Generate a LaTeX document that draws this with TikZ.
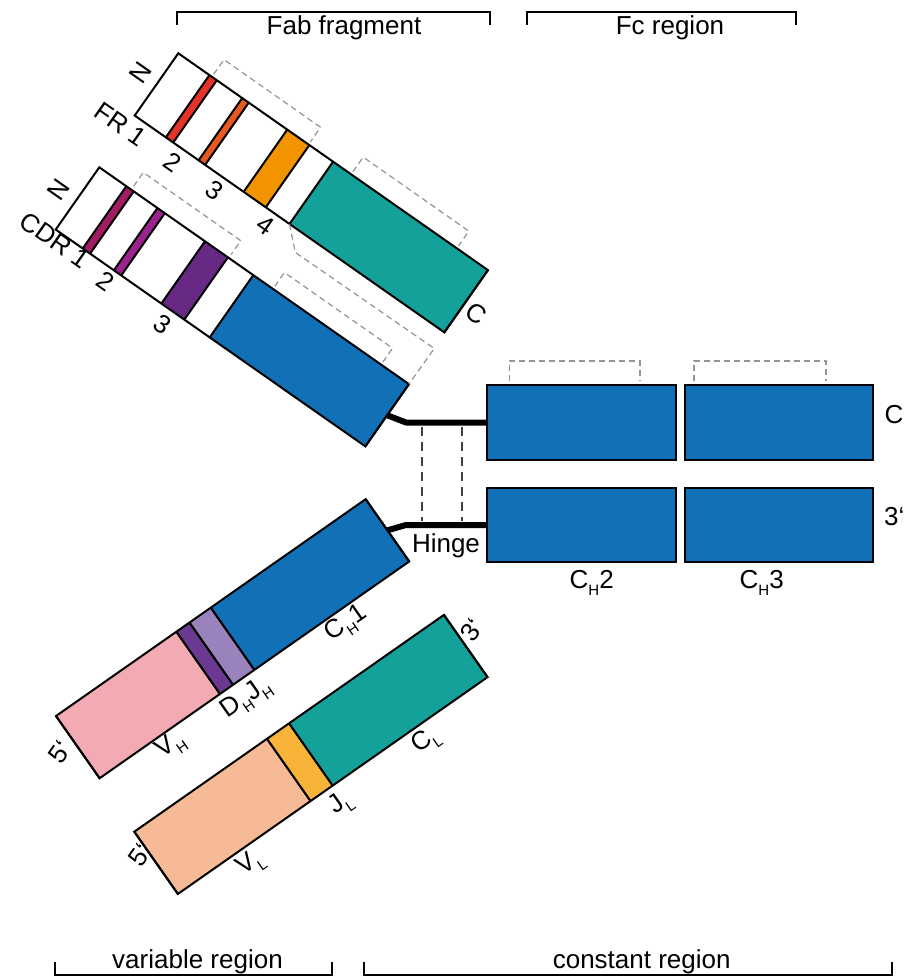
\documentclass[tikz,border=0pt]{standalone}
\usepackage{fontspec}
\setmainfont{Liberation Sans}
\definecolor{cblue}{RGB}{18,112,183}
\definecolor{cteal}{RGB}{20,161,153}
\definecolor{cred}{RGB}{229,51,42}
\definecolor{corr}{RGB}{232,89,32}
\definecolor{corange}{RGB}{242,148,0}
\definecolor{cmaroon}{RGB}{160,29,99}
\definecolor{cmag}{RGB}{156,35,142}
\definecolor{cpurp}{RGB}{104,41,133}
\definecolor{cdh}{RGB}{107,56,146}
\definecolor{cjh}{RGB}{154,130,189}
\definecolor{cvh}{RGB}{244,170,178}
\definecolor{cvl}{RGB}{246,186,151}
\definecolor{cjl}{RGB}{248,180,56}
\newcommand{\chainseg}[3]{\fill[#3] (#1,0) -- (#2,0) -- (#2,76) -- (#1,76) -- cycle;
  \draw[edge] (#1,0) -- (#1,76) (#2,0) -- (#2,76);}
\newcommand{\chainbox}{\draw[edge] (0,0) -- (378,0) -- (378,76) -- (0,76) -- cycle;}
\newcommand{\sbs}[1]{\raisebox{-7pt}{\fontsize{15}{15}\selectfont #1}}
\begin{document}
\begin{tikzpicture}[x=1pt,y=-1pt,
  edge/.style={line width=2pt, line join=miter},
  gdash/.style={draw=black!42, line width=1.2pt, dash pattern=on 6pt off 4pt},
  hdash/.style={draw=black!75, line width=2pt, dash pattern=on 9pt off 6pt},
  hinge/.style={line width=6pt, line join=round},
  fcbox/.style={draw=black, line width=2pt, fill=cblue, minimum height=75pt, inner sep=0pt},
  lbl/.style={font=\fontsize{26}{30}\selectfont, inner sep=0pt},
  brk/.style={line width=2pt, draw=black}]
\useasboundingbox (0,0) rectangle (904,976);

% ---------- upper light chain (FR) ----------
\begin{scope}[shift={(178.3,53.3)},rotate=-35]
  \fill[white] (0,0) -- (378,0) -- (378,76) -- (0,76) -- cycle;
  \chainseg{38}{47}{cred}
  \chainseg{78}{86}{corr}
  \chainseg{133}{160}{corange}
  \chainseg{189}{378}{cteal}
  \chainbox
  \draw[gdash] (41,-3) -- (41,-21) -- (159,-21) -- (159,-3);
  \draw[gdash] (211,-3) -- (211,-21) -- (340,-21) -- (340,-3);
  \coordinate (frTealBL) at (189,76);
  \coordinate (frA) at (210,96);
  \coordinate (frB) at (379,95);
\end{scope}

% ---------- upper heavy chain (CDR) ----------
\begin{scope}[shift={(99.3,167.3)},rotate=-35]
  \fill[white] (0,0) -- (378,0) -- (378,76) -- (0,76) -- cycle;
  \chainseg{33}{42}{cmaroon}
  \chainseg{71}{80}{cmag}
  \chainseg{129}{157}{cpurp}
  \chainseg{188}{378}{cblue}
  \chainbox
  \draw[gdash] (39,-4) -- (39,-21) -- (158,-21) -- (158,-4);
  \draw[gdash] (212,-3) -- (212,-20) -- (344,-20) -- (344,-3);
  \coordinate (cdrTR) at (378,0);
  \coordinate (cdrR) at (378,38);
\end{scope}
\draw[gdash] (frTealBL) -- (frA) -- (frB) -- (cdrTR);

% ---------- lower heavy chain ----------
\begin{scope}[shift={(56,716)},rotate=35]
  \chainseg{0}{147}{cvh}
  \chainseg{147}{163}{cdh}
  \chainseg{163}{189}{cjh}
  \chainseg{189}{378}{cblue}
  \chainbox
  \coordinate (vhR) at (378,38);
\end{scope}

% ---------- lower light chain ----------
\begin{scope}[shift={(134.3,831.7)},rotate=35]
  \chainseg{0}{162}{cvl}
  \chainseg{162}{189}{cjl}
  \chainseg{189}{378}{cteal}
  \chainbox
\end{scope}

% ---------- Fc blocks ----------
\node[fcbox, minimum width=189pt] (fcUL) at (581.5,422.5) {};
\node[fcbox, minimum width=188pt] (fcUR) at (779,422.5) {};
\node[fcbox, minimum width=189pt, minimum height=74pt] (fcLL) at (581.5,525) {};
\node[fcbox, minimum width=188pt, minimum height=74pt] (fcLR) at (779,525) {};
\draw[gdash] (509.3,381) -- (509.3,361) -- (640,361) -- (640,381);
\draw[gdash] (694,381) -- (694,361) -- (826,361) -- (826,381);

% ---------- hinge ----------
\coordinate (bendU) at (406,422.5);
\coordinate (bendL) at (406,525);
\draw[hinge] (cdrR) -- (bendU) -- (fcUL.west);
\draw[hinge] (vhR) -- (bendL) -- (fcLL.west);
\coordinate (hd1t) at (422.3,427);
\coordinate (hd1b) at (422.3,521);
\coordinate (hd2t) at (462.3,427);
\coordinate (hd2b) at (462.3,521);
\draw[hdash] (hd1t) -- (hd1b);
\draw[hdash] (hd2t) -- (hd2b);
\node[lbl] (tHinge) at (446,546) {Hinge};

% ---------- Fc labels ----------
\node[lbl] (tCH2) at (591.7,583) {C\sbs{H}2};
\node[lbl] (tCH3) at (761.7,583) {C\sbs{H}3};
\node[lbl] (tCr) at (894,415) {C};
\node[lbl, anchor=west] (t3r) at (884,517) {3‘};

% ---------- upper chain labels ----------
\node[lbl, rotate=55] (tN1) at (141,73) {N};
\node[lbl, rotate=-35] (tFR) at (120.8,124.1) {FR 1};
\node[lbl, rotate=-35] (tF2) at (172.3,162.3) {2};
\node[lbl, rotate=-35] (tF3) at (215,190.7) {3};
\node[lbl, rotate=-35] (tF4) at (265.7,225.7) {4};
\node[lbl, rotate=-35] (tFC) at (476.7,314) {C};
\node[lbl, rotate=55] (tN2) at (59,190) {N};
\node[lbl, rotate=-35] (tCDR) at (54.8,240.2) {CDR 1};
\node[lbl, rotate=-35] (tC2) at (105.7,281.7) {2};
\node[lbl, rotate=-35] (tC3) at (162.3,324) {3};

% ---------- lower chain labels ----------
\node[lbl, rotate=35] (tCH1) at (346.7,624) {C\sbs{H}1};
\node[lbl, rotate=35] (tDJ) at (246.7,699) {D\sbs{H}J\sbs{H}};
\node[lbl, rotate=35] (tVH) at (171,745.7) {V\sbs{H}};
\node[lbl, rotate=55] (t5a) at (60,751.7) {5‘};
\node[lbl, rotate=35] (tCL) at (426,740.7) {C\sbs{L}};
\node[lbl, rotate=35] (tJL) at (341,804) {J\sbs{L}};
\node[lbl, rotate=35] (tVL) at (251,864) {V\sbs{L}};
\node[lbl, rotate=55] (t5b) at (140,855) {5‘};
\node[lbl, rotate=55] (t3b) at (471.7,630) {3‘};

% ---------- brackets ----------
\draw[brk] (176.7,25) -- (176.7,12.3) -- (490,12.3) -- (490,25);
\node[lbl, anchor=base] (tFab) at (344,35) {Fab fragment};
\draw[brk] (526.7,25) -- (526.7,12.3) -- (796,12.3) -- (796,25);
\node[lbl, anchor=base] (tFc) at (670,35) {Fc region};
\draw[brk] (55,961.7) -- (55,975) -- (331.7,975) -- (331.7,961.7);
\node[lbl, anchor=base] (tVar) at (197.5,968) {variable region};
\draw[brk] (364.3,961.7) -- (364.3,975) -- (891.7,975) -- (891.7,961.7);
\node[lbl, anchor=base] (tCon) at (641.7,968) {constant region};
\end{tikzpicture}
\end{document}
